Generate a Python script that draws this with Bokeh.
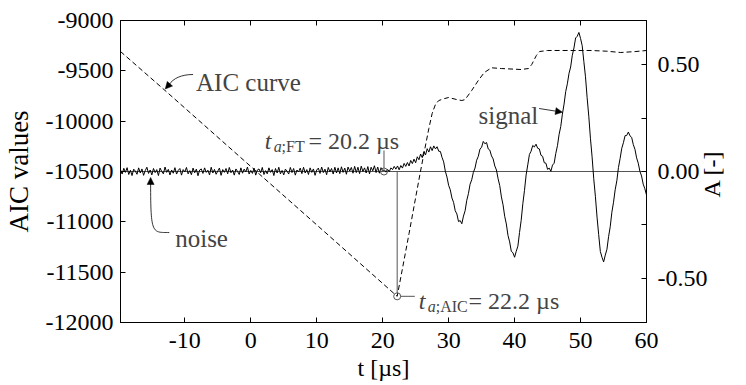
import numpy as np
from math import pi
from bokeh.plotting import figure
from bokeh.models import Range1d, LinearAxis, FixedTicker, Label, Arrow, NormalHead
from bokeh.embed import file_html
from bokeh.resources import INLINE

# ---------------- data ----------------
t_start = -19.75
t_step = 0.25

noise_a = [
    0.008, -0.012, 0.015, -0.004, 0.018, -0.014, 0.006, -0.019, 0.011, 0.002,
    -0.013, 0.017, -0.007, 0.012, -0.018, 0.004, 0.020, -0.009, 0.007, -0.016,
    0.014, -0.005, 0.009, -0.019, 0.016, 0.000, -0.011, 0.021, -0.004, 0.010,
    -0.016, 0.007, -0.008, 0.018, -0.012, 0.005, 0.014, -0.017, 0.009, -0.002,
    0.019, -0.011, 0.004, -0.015, 0.016, -0.006, 0.011, -0.020, 0.007, 0.012,
    -0.009, 0.017, -0.004, 0.006, -0.016, 0.020, -0.007, 0.010, -0.013, 0.002,
    0.016, -0.018, 0.009, -0.004, 0.014, -0.011, 0.019, -0.006, 0.007, -0.017,
    0.012, 0.000, -0.014, 0.017, -0.008, 0.011, -0.002, 0.021, -0.012, 0.005,
    -0.009, 0.016, -0.017, 0.007, 0.012, -0.006, 0.019, -0.014, 0.004, -0.011,
    0.017, -0.004, 0.009, -0.019, 0.014, -0.007, 0.020, -0.011, 0.005, -0.016,
    0.011, 0.002, -0.012, 0.019, -0.005, 0.014, -0.017, 0.007, -0.002, 0.016,
    -0.010, 0.020, -0.007, 0.009, -0.014, 0.017, -0.004, 0.012, -0.018, 0.007,
    0.016, -0.009, 0.021, -0.005, 0.011, -0.015, 0.019, -0.002, 0.014, -0.012,
    0.020, -0.007, 0.017, -0.010, 0.022, -0.004, 0.016, -0.013, 0.021, 0.002,
    0.019, -0.008, 0.024, -0.005, 0.020, -0.010, 0.025, 0.000, 0.017, -0.007,
    0.023, -0.011, 0.020, 0.003, 0.027, -0.005, 0.021, -0.008, 0.018, 0.004,
]

signal_a = [
    0.008, -0.003, 0.010, -0.001, 0.017, 0.009, 0.024, 0.011, 0.026, 0.008,
    0.028, 0.016, 0.038, 0.024, 0.042, 0.026, 0.052, 0.037, 0.058, 0.041,
    0.069, 0.055, 0.082, 0.065, 0.093, 0.078, 0.107, 0.091, 0.116, 0.098,
    0.120, 0.106, 0.116, 0.095, 0.094, 0.066, 0.045, 0.001, -0.026, -0.065,
    -0.086, -0.124, -0.145, -0.184, -0.199, -0.235, -0.230, -0.245, -0.209, -0.184,
    -0.135, -0.104, -0.060, -0.039, -0.004, 0.016, 0.053, 0.071, 0.105, 0.114,
    0.141, 0.130, 0.136, 0.106, 0.100, 0.073, 0.059, 0.026, 0.007, -0.034,
    -0.066, -0.119, -0.156, -0.210, -0.246, -0.300, -0.330, -0.374, -0.381, -0.402,
    -0.374, -0.350, -0.286, -0.229, -0.151, -0.089, -0.016, 0.031, 0.080, 0.095,
    0.122, 0.115, 0.128, 0.109, 0.106, 0.076, 0.071, 0.041, 0.039, 0.010,
    0.016, 0.001, 0.030, 0.039, 0.085, 0.121, 0.174, 0.211, 0.269, 0.316,
    0.375, 0.411, 0.460, 0.490, 0.545, 0.579, 0.626, 0.634, 0.652, 0.624,
    0.590, 0.516, 0.444, 0.346, 0.259, 0.156, 0.069, -0.034, -0.116, -0.214,
    -0.296, -0.375, -0.402, -0.424, -0.392, -0.365, -0.306, -0.259, -0.191, -0.144,
    -0.086, -0.044, 0.019, 0.061, 0.109, 0.135, 0.168, 0.169, 0.185, 0.167,
    0.160, 0.126, 0.104, 0.064, 0.039, 0.001, -0.021, -0.059, -0.081, -0.110,
]

aic_t = [-19.75, -13.0, 0.0, 10.0, 22.2, 23.0, 24.0, 25.0, 25.7, 26.4, 27.0,
         27.5, 28.0, 28.5, 29.4, 30.0, 31.2, 32.0, 32.5, 33.5, 34.5, 35.4,
         36.5, 38.0, 41.0, 42.1, 42.6, 43.3, 43.8, 45.0, 51.6, 54.0, 56.1,
         58.4, 60.0]
aic_v = [-9308, -9695, -10450, -11030, -11740, -11464, -11116, -10758, -10510,
         -10272, -10073, -9924, -9834, -9795, -9775, -9765, -9785, -9795, -9785,
         -9695, -9596, -9517, -9470, -9477, -9487, -9477, -9437, -9348, -9308,
         -9298, -9298, -9305, -9318, -9308, -9298]

t_ft = 20.2
t_aic = 22.2
aic_min = -11740

x_ticks = [-10, 0, 10, 20, 30, 40, 50, 60]
aic_ticks = [-12000, -11500, -11000, -10500, -10000, -9500, -9000]
a_ticks = [-0.5, -0.25, 0.0, 0.25, 0.5]
a_tick_labels = {-0.5: "-0.50", -0.25: "", 0.0: "0.00", 0.25: "", 0.5: "0.50"}

# ---------------- geometry ----------------
X0, X1 = -19.75, 60.0
Y0, Y1 = -12000.0, -9000.0
A_LIM = 0.708
FL, FT_, FW, FH = 117, 20, 529, 302   # frame left, top, width, height (px)
FONT = "'Liberation Serif', serif"


def tx(px):
    return X0 + (px - FL) * (X1 - X0) / FW


def ay(py):
    return Y1 - (py - FT_) * (Y1 - Y0) / FH


def a2aic(a):
    return (Y0 + Y1) / 2 + a * (Y1 - Y0) / (2 * A_LIM)


def pa(py):
    # screen y (px) -> A value on the right-hand range
    return A_LIM - (py - FT_) * (2 * A_LIM) / FH


t_all = t_start + t_step * np.arange(len(noise_a) + len(signal_a))
a_all = np.array(noise_a + signal_a)

p = figure(width=746, height=385, x_range=Range1d(X0, X1), y_range=Range1d(Y0, Y1),
           output_backend="svg", toolbar_location=None,
           min_border_left=FL, min_border_right=746 - FL - FW,
           min_border_top=FT_, min_border_bottom=385 - FT_ - FH)
p.extra_y_ranges = {"A": Range1d(-A_LIM, A_LIM)}
p.grid.visible = False
p.outline_line_color = "black"
p.outline_line_width = 1
p.background_fill_color = "white"
p.border_fill_color = "white"

# axes
xa = p.xaxis[0]
xa.ticker = FixedTicker(ticks=x_ticks)
xa.major_label_overrides = {v: str(v) for v in x_ticks}
xa.axis_label = "t [µs]"
xa.axis_label_standoff = 4
xa.major_label_standoff = 10
ya = p.yaxis[0]
ya.ticker = FixedTicker(ticks=aic_ticks)
ya.major_label_overrides = {v: str(v) for v in aic_ticks}
ya.axis_label = "AIC values"
ya.axis_label_standoff = 9
ya.major_label_standoff = 7

ra = LinearAxis(y_range_name="A", ticker=FixedTicker(ticks=a_ticks))
ra.major_label_overrides = a_tick_labels
ra.major_label_standoff = 11
p.add_layout(ra, "right")

# right-hand axis title, drawn as the single tick label of a bare axis
a_title_pos = pa(197)
ra2 = LinearAxis(y_range_name="A", ticker=FixedTicker(ticks=[a_title_pos]))
ra2.major_label_overrides = {a_title_pos: "A [-]"}
ra2.major_label_orientation = pi / 2
ra2.major_label_standoff = 1
ra2.axis_line_color = None
ra2.major_tick_line_color = None
ra2.minor_tick_line_color = None
ra2.major_tick_in = 0
ra2.major_tick_out = 0
ra2.major_label_text_font = FONT
ra2.major_label_text_font_size = "24px"
ra2.major_label_text_color = "black"
p.add_layout(ra2, "right")

ta = LinearAxis(ticker=FixedTicker(ticks=x_ticks))
ta.major_label_overrides = {v: "" for v in x_ticks}
ta.major_label_standoff = 0
p.add_layout(ta, "above")

for ax in (xa, ya, ra, ta):
    ax.major_tick_in = 5
    ax.major_tick_out = 0
    ax.minor_tick_line_color = None
    ax.axis_line_color = "black"
    ax.major_tick_line_color = "black"
    ax.major_label_text_color = "black"
    ax.major_label_text_font = FONT
    ax.major_label_text_font_size = "24px"
    ax.axis_label_text_font = FONT
    ax.axis_label_text_font_style = "normal"
    ax.axis_label_text_color = "black"
xa.axis_label_text_font_size = "24px"
ya.axis_label_text_font_size = "27px"

# ---------------- marks ----------------
GRAY = "#555555"
p.line([X0, X1], [0, 0], y_range_name="A", line_color=GRAY, line_width=1)
p.line(t_all, a_all, y_range_name="A", line_color="black", line_width=1)
p.line(aic_t, aic_v, line_color="black", line_width=1, line_dash="5 3")

r_px = 3.5
p.segment(x0=[t_aic], y0=[aic_min + r_px * (Y1 - Y0) / FH], x1=[t_aic], y1=[a2aic(0.0)],
          line_color=GRAY, line_width=1)
p.segment(x0=[t_ft], y0=[ay(167.5)], x1=[t_ft], y1=[ay(150)], line_color=GRAY, line_width=1)
p.segment(x0=[tx(398.5)], y0=[aic_min], x1=[tx(413)], y1=[aic_min], line_color=GRAY,
          line_width=1)
p.scatter([t_ft], [0.0], y_range_name="A", marker="circle", size=7, fill_color=None,
          line_color=GRAY, line_width=1)
p.scatter([t_aic], [aic_min], marker="circle", size=7, fill_color=None,
          line_color=GRAY, line_width=1)


def txt(s, px, py, size="25px", style="normal"):
    p.add_layout(Label(x=tx(px), y=ay(py), text=s, text_font=FONT, text_font_size=size,
                       text_font_style=style, text_baseline="alphabetic"))


# t_a;FT label
txt("t", 262, 140, "24px", "italic")
txt("a", 271, 146, "16px", "italic")
txt(";FT", 279, 146, "16px")
txt("= 20.2 µs", 306, 140, "24px")
# t_a;AIC label
txt("t", 417, 300, "24px", "italic")
txt("a", 426, 306, "16px", "italic")
txt(";AIC", 434, 306, "16px")
txt("= 22.2 µs", 467, 300, "24px")
# annotations
txt("AIC curve", 193, 82)
txt("noise", 172, 238)
txt("signal", 477, 115)

head = dict(size=7, fill_color="black", line_color="black", line_width=0.5)
# AIC curve arrow
p.bezier(x0=[tx(190)], y0=[ay(74)], x1=[tx(166)], y1=[ay(84)],
         cx0=[tx(178)], cy0=[ay(74)], cx1=[tx(170)], cy1=[ay(78)],
         line_color="black", line_width=0.8)
p.add_layout(Arrow(end=NormalHead(**head), x_start=tx(166), y_start=ay(84),
                   x_end=tx(162), y_end=ay(88.5), line_color="black", line_width=0.8))
# noise arrow
p.bezier(x0=[tx(147.3)], y0=[ay(183)], x1=[tx(166)], y1=[ay(232)],
         cx0=[tx(147.3)], cy0=[ay(234)], cx1=[tx(149)], cy1=[ay(232)],
         line_color="black", line_width=0.8)
p.add_layout(Arrow(end=NormalHead(**head), x_start=tx(147.3), y_start=ay(184),
                   x_end=tx(147.3), y_end=ay(177), line_color="black", line_width=0.8))
# signal arrow
p.add_layout(Arrow(end=NormalHead(**head), x_start=tx(538), y_start=ay(108),
                   x_end=tx(561.5), y_end=ay(111.7), line_color="black", line_width=0.8))

open("out.html", "w").write(file_html(p, INLINE))
